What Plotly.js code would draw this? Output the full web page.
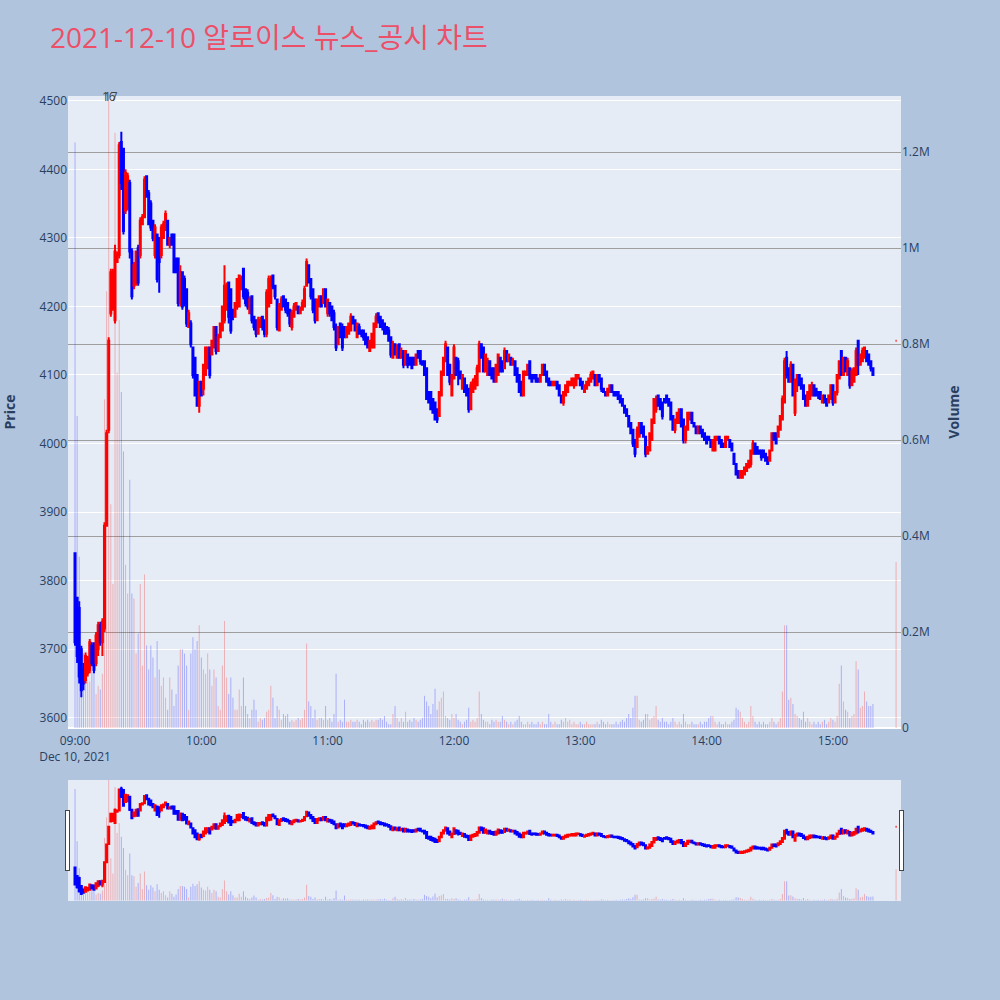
<!DOCTYPE html>
<html>
<head>
<meta charset="utf-8">
<script src="https://cdn.plot.ly/plotly-3.0.1.min.js"></script>
<style>
  html, body { margin: 0; padding: 0; background: #B0C4DE; }
  #chart { width: 1000px; height: 1000px; }
</style>
</head>
<body>
<div id="chart"></div>
<script>
// 1-minute candles for 2021-12-10, 09:00 .. 15:19, plus the 15:30 closing auction print
const sessionDate = '2021-12-10';
const sessionOpenHour = 9;
const closingAuctionTime = '15:30';

const open = [
  3840,3775,3760,3700,3670,3655,3665,3670,3705,3700,
  3680,3700,3735,3710,3730,3880,4020,4190,4195,4180,
  4265,4275,4440,4430,4340,4345,4380,4280,4230,4235,
  4285,4275,4320,4330,4390,4365,4350,4325,4275,4305,
  4300,4275,4300,4315,4325,4290,4305,4305,4270,4270,
  4205,4250,4240,4225,4170,4175,4140,4125,4100,4055,
  4090,4080,4100,4110,4140,4130,4140,4170,4135,4155,
  4165,4180,4195,4235,4225,4195,4185,4200,4200,4225,
  4255,4225,4220,4190,4215,4185,4180,4160,4170,4185,
  4180,4160,4200,4205,4245,4230,4210,4165,4195,4215,
  4210,4205,4195,4170,4185,4195,4200,4190,4195,4200,
  4230,4260,4240,4225,4210,4180,4200,4215,4205,4225,
  4190,4205,4200,4190,4170,4145,4175,4170,4170,4155,
  4160,4165,4185,4180,4155,4170,4165,4165,4160,4155,
  4135,4140,4140,4170,4190,4185,4180,4175,4170,4165,
  4155,4125,4145,4125,4145,4125,4135,4115,4130,4125,
  4125,4125,4115,4135,4135,4120,4120,4110,4075,4075,
  4065,4060,4050,4040,4070,4100,4120,4140,4115,4070,
  4095,4125,4120,4105,4080,4095,4085,4080,4050,4075,
  4080,4085,4105,4145,4140,4105,4100,4120,4110,4110,
  4090,4100,4125,4120,4110,4135,4120,4125,4115,4120,
  4110,4100,4090,4070,4100,4100,4120,4100,4100,4100,
  4095,4090,4100,4115,4105,4095,4090,4085,4085,4090,
  4085,4070,4060,4070,4075,4085,4085,4085,4085,4095,
  4095,4090,4075,4080,4085,4090,4095,4100,4085,4100,
  4095,4080,4075,4070,4075,4085,4075,4075,4075,4070,
  4065,4055,4050,4040,4030,4020,4005,3995,4010,4030,
  4025,4010,3985,3990,4005,4030,4050,4070,4065,4060,
  4065,4070,4065,4060,4040,4020,4030,4030,4050,4035,
  4005,4020,4035,4045,4030,4025,4015,4025,4020,4015,
  4010,4010,4005,3990,3990,4005,4010,4005,4000,3995,
  4005,4005,4000,3985,3970,3960,3950,3950,3955,3960,
  3965,3970,3985,4000,3995,3990,3990,3990,3985,3980,
  3975,3990,4015,4015,4010,4020,4035,4060,4125,4110,
  4090,4115,4045,4090,4100,4095,4085,4070,4055,4065,
  4070,4085,4080,4075,4075,4060,4070,4065,4060,4065,
  4085,4060,4075,4095,4135,4100,4125,4100,4110,4085,
  4090,4100,4150,4115,4120,4125,4135,4130,4120,4110,
  4150
];

const high = [
  3840,3775,3770,3705,3680,3695,3690,3715,3710,3710,
  3725,3740,3740,3745,3885,4020,4155,4255,4255,4290,
  4280,4440,4455,4430,4400,4395,4385,4285,4265,4280,
  4290,4330,4335,4390,4390,4370,4355,4325,4320,4305,
  4300,4320,4325,4340,4325,4300,4305,4305,4270,4270,
  4260,4250,4245,4225,4195,4180,4140,4125,4100,4090,
  4090,4115,4140,4140,4140,4150,4170,4170,4160,4175,
  4200,4260,4235,4235,4225,4195,4205,4240,4245,4245,
  4255,4225,4225,4215,4215,4185,4180,4185,4185,4185,
  4180,4225,4245,4245,4245,4230,4210,4205,4215,4215,
  4210,4205,4195,4195,4205,4205,4200,4200,4210,4230,
  4270,4260,4240,4225,4210,4210,4215,4215,4225,4225,
  4210,4205,4200,4195,4175,4170,4175,4175,4170,4170,
  4175,4190,4185,4180,4175,4175,4165,4165,4160,4155,
  4150,4160,4175,4190,4190,4185,4180,4175,4170,4170,
  4155,4150,4145,4145,4145,4140,4135,4135,4130,4125,
  4125,4125,4130,4135,4135,4120,4120,4110,4075,4075,
  4065,4060,4050,4075,4105,4125,4150,4140,4115,4100,
  4145,4125,4125,4105,4100,4095,4085,4080,4090,4095,
  4100,4115,4150,4145,4140,4130,4125,4120,4110,4110,
  4115,4130,4125,4120,4140,4135,4130,4125,4125,4120,
  4110,4100,4090,4105,4105,4115,4120,4100,4100,4100,
  4095,4100,4115,4115,4105,4095,4090,4090,4090,4090,
  4085,4070,4075,4085,4090,4090,4095,4095,4100,4100,
  4095,4090,4085,4090,4095,4105,4105,4100,4100,4100,
  4095,4080,4075,4080,4085,4085,4075,4075,4075,4070,
  4065,4055,4050,4040,4030,4020,4005,4025,4030,4030,
  4025,4010,3995,4015,4035,4065,4070,4070,4065,4060,
  4065,4070,4065,4060,4040,4035,4045,4050,4050,4035,
  4025,4045,4045,4045,4030,4025,4025,4025,4020,4015,
  4010,4010,4005,4005,4010,4010,4010,4005,4000,4010,
  4010,4005,4000,3985,3970,3960,3960,3960,3965,3970,
  3975,3990,4005,4000,3995,3990,3990,3990,3985,3980,
  3990,4015,4015,4015,4025,4040,4070,4125,4135,4110,
  4120,4115,4095,4100,4100,4095,4085,4070,4075,4085,
  4090,4085,4080,4075,4075,4070,4070,4065,4070,4085,
  4085,4075,4100,4120,4135,4125,4125,4125,4110,4110,
  4110,4140,4150,4130,4140,4140,4135,4130,4120,4110,
  4150
];

const low = [
  3705,3680,3650,3630,3640,3650,3660,3665,3675,3665,
  3675,3690,3705,3690,3725,3880,4015,4185,4195,4175,
  4265,4270,4370,4305,4335,4340,4270,4210,4225,4230,
  4230,4270,4320,4330,4360,4320,4310,4295,4270,4235,
  4220,4270,4300,4310,4290,4285,4290,4250,4250,4200,
  4200,4195,4200,4170,4170,4140,4095,4070,4055,4045,
  4070,4070,4100,4110,4095,4130,4140,4130,4135,4155,
  4165,4175,4195,4175,4160,4180,4185,4195,4200,4225,
  4210,4200,4195,4190,4175,4165,4155,4160,4170,4165,
  4155,4155,4200,4205,4225,4210,4165,4165,4195,4200,
  4190,4185,4170,4165,4185,4195,4190,4190,4195,4200,
  4230,4235,4210,4190,4175,4180,4200,4200,4205,4200,
  4185,4185,4180,4165,4135,4145,4155,4135,4155,4155,
  4160,4165,4175,4165,4155,4160,4155,4150,4145,4140,
  4135,4140,4140,4170,4175,4170,4165,4160,4160,4150,
  4125,4125,4130,4125,4125,4125,4110,4115,4110,4115,
  4110,4115,4115,4125,4115,4115,4100,4065,4060,4050,
  4045,4035,4030,4040,4070,4100,4120,4100,4085,4070,
  4095,4100,4085,4095,4080,4075,4070,4045,4050,4075,
  4080,4085,4105,4125,4105,4105,4100,4100,4095,4090,
  4090,4100,4105,4105,4110,4120,4120,4115,4115,4100,
  4090,4075,4070,4070,4100,4100,4095,4090,4095,4090,
  4090,4090,4100,4100,4090,4085,4085,4085,4085,4080,
  4070,4060,4055,4070,4075,4085,4085,4080,4085,4095,
  4085,4080,4075,4080,4085,4090,4095,4085,4085,4090,
  4075,4075,4070,4070,4075,4075,4070,4070,4065,4060,
  4055,4045,4040,4025,4015,3995,3980,3995,4010,4015,
  4010,3980,3985,3990,4005,4030,4045,4055,4050,4035,
  4060,4060,4055,4035,4020,4015,4030,4030,4025,4000,
  4000,4020,4035,4030,4025,4015,4015,4015,4010,4005,
  4000,4005,3995,3990,3990,4005,4000,3995,3995,3995,
  4005,3995,3990,3970,3955,3950,3950,3950,3955,3960,
  3965,3965,3985,3985,3985,3985,3975,3980,3975,3970,
  3975,3990,4005,4000,4010,4020,4035,4060,4095,4090,
  4090,4070,4040,4075,4085,4080,4065,4055,4055,4065,
  4070,4070,4070,4065,4065,4060,4060,4055,4060,4065,
  4055,4060,4070,4095,4100,4100,4105,4100,4080,4085,
  4090,4100,4100,4115,4120,4125,4120,4115,4105,4100,
  4150
];

const close = [
  3710,3690,3660,3640,3650,3690,3685,3710,3680,3670,
  3720,3735,3710,3740,3880,4015,4150,4250,4250,4280,
  4275,4435,4380,4310,4395,4390,4280,4215,4260,4280,
  4235,4325,4330,4385,4360,4320,4315,4300,4315,4240,
  4265,4315,4320,4335,4290,4300,4290,4250,4250,4205,
  4250,4200,4205,4175,4190,4145,4100,4070,4055,4090,
  4070,4115,4140,4140,4100,4150,4170,4135,4155,4175,
  4200,4230,4230,4185,4165,4185,4205,4240,4245,4240,
  4215,4205,4200,4210,4180,4170,4160,4180,4180,4170,
  4160,4220,4240,4240,4230,4215,4170,4200,4210,4200,
  4195,4190,4175,4190,4200,4205,4190,4195,4205,4225,
  4265,4235,4215,4195,4180,4210,4215,4200,4225,4200,
  4210,4190,4180,4170,4140,4170,4155,4140,4155,4170,
  4175,4185,4175,4165,4175,4160,4160,4155,4145,4140,
  4150,4160,4175,4185,4180,4170,4170,4160,4160,4150,
  4130,4145,4130,4140,4125,4135,4115,4135,4115,4115,
  4110,4115,4130,4125,4120,4115,4100,4065,4060,4050,
  4045,4035,4035,4075,4105,4125,4145,4100,4090,4100,
  4140,4100,4105,4095,4100,4075,4070,4050,4085,4090,
  4095,4110,4145,4125,4105,4130,4120,4100,4095,4090,
  4115,4130,4105,4105,4135,4120,4130,4115,4120,4100,
  4090,4075,4070,4105,4105,4115,4095,4090,4095,4090,
  4090,4100,4115,4100,4090,4085,4085,4090,4090,4080,
  4070,4060,4075,4085,4090,4090,4095,4095,4100,4100,
  4085,4080,4085,4090,4095,4100,4105,4085,4100,4090,
  4080,4075,4070,4080,4085,4075,4070,4070,4065,4060,
  4055,4045,4040,4025,4015,4000,3985,4020,4030,4015,
  4010,3985,3995,4015,4035,4065,4065,4055,4050,4040,
  4060,4060,4055,4035,4020,4035,4045,4050,4025,4005,
  4025,4045,4045,4030,4025,4015,4025,4015,4010,4005,
  4000,4005,3995,4005,4010,4010,4000,3995,3995,4010,
  4010,3995,3990,3970,3955,3950,3960,3960,3965,3970,
  3975,3990,4000,3985,3985,3985,3980,3980,3975,3970,
  3990,4015,4005,4000,4025,4040,4065,4120,4100,4090,
  4115,4070,4090,4100,4085,4080,4065,4055,4075,4085,
  4085,4070,4070,4070,4065,4070,4060,4055,4070,4085,
  4060,4075,4100,4120,4100,4125,4105,4120,4085,4105,
  4110,4135,4115,4130,4135,4140,4120,4115,4110,4100,
  4150
];

const volume = [
  1220000,650000,357000,140000,155000,120000,97000,97000,120000,140000,
  71000,88000,80000,113000,685000,910000,2600000,466000,300000,1240000,
  740000,850000,700000,576000,340000,280000,517000,280000,270000,155000,
  197000,300000,130000,320000,172000,122000,172000,147000,105000,181000,
  122000,88000,105000,63000,38000,105000,80000,46000,71000,130000,
  164000,164000,155000,130000,38000,155000,189000,164000,181000,214000,
  147000,122000,113000,155000,122000,88000,122000,105000,46000,38000,
  130000,223000,105000,71000,105000,63000,38000,38000,
  80000,46000,105000,46000,29000,21000,38000,59000,38000,13000,
  21000,17000,21000,34000,38000,88000,63000,21000,46000,38000,
  17000,29000,25000,29000,13000,17000,13000,17000,21000,17000,
  21000,38000,176000,55000,46000,21000,38000,17000,21000,21000,
  17000,46000,17000,21000,13000,29000,113000,13000,17000,13000,
  59000,13000,13000,17000,13000,13000,17000,13000,8000,17000,
  13000,17000,13000,17000,13000,17000,17000,21000,17000,25000,
  13000,8000,8000,29000,46000,21000,13000,21000,13000,
  34000,13000,17000,13000,21000,17000,13000,17000,21000,67000,
  55000,46000,29000,50000,82000,38000,55000,63000,76000,25000,
  21000,17000,29000,21000,29000,17000,13000,8000,13000,17000,
  42000,13000,17000,13000,21000,76000,29000,17000,13000,13000,
  8000,17000,13000,17000,13000,13000,25000,17000,13000,8000,
  13000,8000,13000,17000,25000,13000,8000,8000,13000,8000,
  13000,8000,8000,13000,8000,13000,8000,8000,29000,13000,
  8000,13000,8000,8000,17000,13000,21000,13000,17000,8000,
  13000,8000,8000,13000,8000,8000,13000,8000,8000,8000,
  8000,13000,8000,17000,13000,8000,13000,8000,8000,8000,
  13000,8000,13000,17000,13000,21000,29000,21000,42000,67000,
  67000,17000,13000,17000,29000,29000,17000,21000,25000,46000,
  17000,13000,21000,13000,13000,8000,13000,21000,13000,8000,
  13000,8000,29000,13000,8000,8000,13000,8000,8000,8000,
  13000,8000,13000,13000,21000,25000,25000,13000,8000,13000,
  8000,8000,13000,8000,8000,13000,17000,42000,38000,34000,
  21000,13000,8000,13000,46000,25000,13000,8000,13000,8000,
  13000,8000,8000,13000,21000,13000,8000,13000,21000,76000,
  214000,214000,59000,63000,50000,29000,25000,21000,17000,34000,
  13000,21000,13000,8000,13000,8000,13000,8000,13000,17000,
  8000,13000,21000,17000,13000,25000,92000,130000,55000,38000,
  34000,21000,25000,29000,139000,122000,42000,46000,76000,55000,
  46000,46000,50000,
  346000
];

// News markers shown along the top edge
const markerMinutes = ['09:16', '09:17'];
const markerLabels = ['16', '17'];

const pad = n => String(n).padStart(2, '0');
const times = [];
for (let i = 0; i < open.length - 1; i++) {
  const h = sessionOpenHour + Math.floor(i / 60);
  times.push(`${sessionDate} ${pad(h)}:${pad(i % 60)}`);
}
times.push(`${sessionDate} ${closingAuctionTime}`);

const upColor = 'red';
const downColor = 'blue';
const volColors = close.map((c, i) =>
  c >= open[i] ? 'rgba(255,0,0,0.25)' : 'rgba(0,0,255,0.25)');

const xRange = [`${sessionDate} 08:56:40`, `${sessionDate} 15:32:20`];

const traces = [
  {
    type: 'candlestick',
    name: 'Price',
    x: times, open: open, high: high, low: low, close: close,
    increasing: { line: { color: upColor, width: 2 }, fillcolor: upColor },
    decreasing: { line: { color: downColor, width: 2 }, fillcolor: downColor },
    yaxis: 'y'
  },
  {
    type: 'bar',
    name: 'Volume',
    x: times, y: volume,
    marker: { color: volColors },
    yaxis: 'y2'
  }
];

const tickFont = { color: '#2a3f5f', size: 12 };
const axisTitleFont = { size: 14, color: '#2a3f5f', weight: 'bold' };

const layout = {
  width: 1000, height: 1000,
  paper_bgcolor: '#B0C4DE',
  plot_bgcolor: '#E5ECF6',
  font: { family: '"Open Sans", verdana, arial, sans-serif', color: '#2a3f5f' },
  title: {
    text: '2021-12-10 알로이스 뉴스_공시 차트',
    font: { size: 28, color: '#EC5068', family: '"Open Sans", "Noto Sans CJK KR", sans-serif' },
    x: 0.05, xanchor: 'left'
  },
  margin: { l: 68, r: 99, t: 96, b: 100 },
  showlegend: false,
  bargap: 0.5,
  xaxis: {
    type: 'date',
    range: xRange,
    autorange: false,
    showgrid: false,
    zeroline: false,
    ticks: 'outside',
    ticklen: 1.5,
    tickcolor: 'rgba(0,0,0,0)',
    tickfont: tickFont,
    rangeslider: { visible: true, range: xRange, bgcolor: '#E5ECF6', thickness: 0.15 }
  },
  yaxis: {
    title: { text: 'Price', standoff: 20, font: axisTitleFont },
    range: [3585, 4507],
    autorange: false,
    gridcolor: 'white',
    zeroline: false,
    ticks: '',
    tickfont: tickFont
  },
  yaxis2: {
    title: { text: 'Volume', standoff: 20, font: axisTitleFont },
    overlaying: 'y',
    side: 'right',
    range: [0, 1316700],
    autorange: false,
    showgrid: true,
    gridcolor: '#9e9e9e',
    zeroline: true,
    zerolinecolor: 'white',
    zerolinewidth: 2,
    ticks: '',
    tickfont: tickFont
  },
  annotations: markerMinutes.map((t, i) => ({
    x: `${sessionDate} ${t}`, xref: 'x',
    y: 1, yref: 'paper', yanchor: 'middle',
    text: markerLabels[i], showarrow: false,
    font: { size: 12, color: '#444' }
  }))
};

Plotly.newPlot('chart', traces, layout, { displayModeBar: false });
</script>
</body>
</html>
